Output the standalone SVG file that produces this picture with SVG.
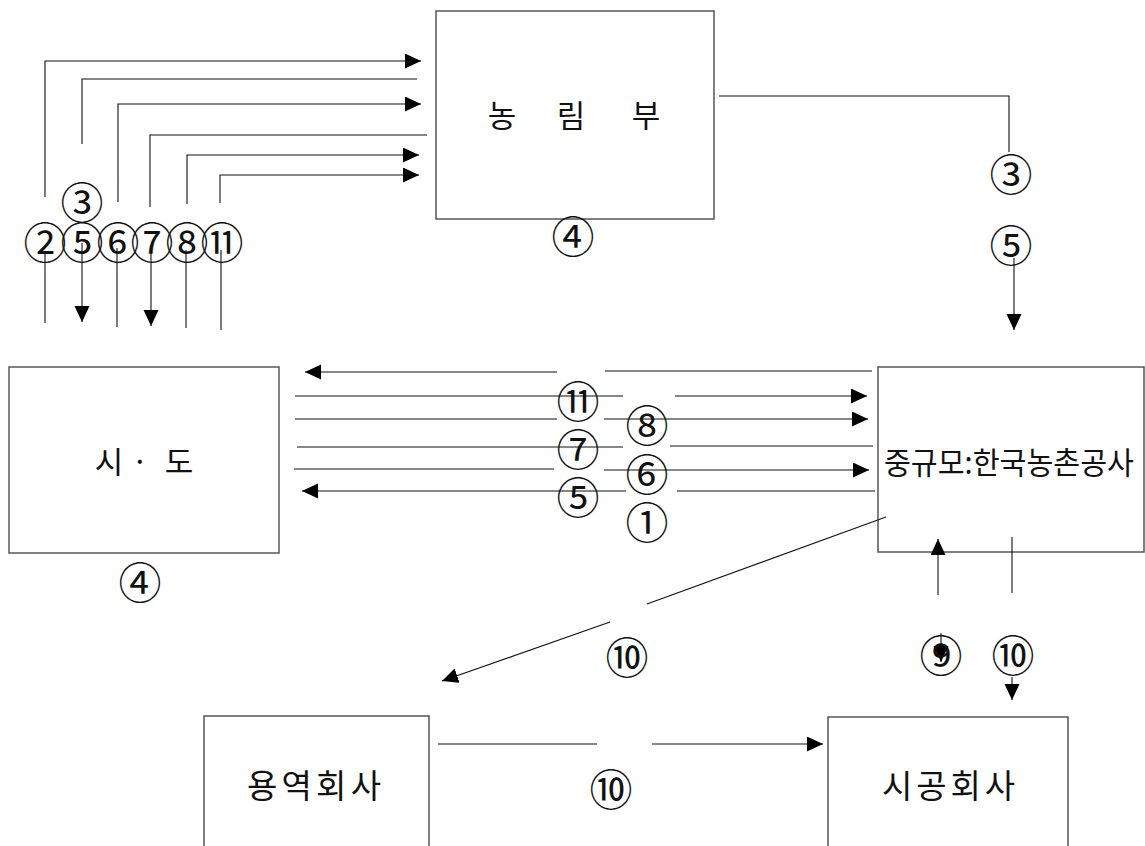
<svg xmlns="http://www.w3.org/2000/svg" width="1145" height="846" viewBox="0 0 1145 846">
<style>
.box{fill:#fff;stroke:#555;stroke-width:1.5}
.ln{fill:none;stroke:#111;stroke-width:1.1}
.kt{font-family:"Noto Sans CJK KR","Liberation Serif",serif;font-size:31px;fill:#111}
.kb{font-size:33px}
.num{font-family:"Noto Sans CJK KR","Liberation Serif",serif;font-size:43px;fill:#111;text-anchor:middle;dominant-baseline:central}
</style>
<defs>
<marker id="ah" markerUnits="userSpaceOnUse" markerWidth="17" markerHeight="16" refX="16" refY="7.5" orient="auto">
<path d="M0,0 L16,7.5 L0,15 z" fill="#000"/>
</marker>
</defs>
<g id="node-nongrimbu">
<rect class="box" x="436" y="11" width="278" height="208"/>
<text class="kt" x="502 537 571 609 646" y="127" text-anchor="middle">농 림 부</text>
</g>
<g id="node-sido">
<rect class="box" x="9" y="367" width="270" height="186"/>
<text class="kt" x="109 125 140 155 179" y="473" text-anchor="middle">시 · 도</text>
</g>
<g id="node-jungyumo">
<rect class="box" x="878" y="367" width="266" height="185"/>
<text class="kt" x="884" y="474" textLength="250" lengthAdjust="spacingAndGlyphs">중규모:한국농촌공사</text>
</g>
<g id="node-yongyeok">
<rect class="box" x="204" y="716" width="225" height="200"/>
<text class="kt kb" x="247" y="798" textLength="134" lengthAdjust="spacing">용역회사</text>
</g>
<g id="node-sigong">
<rect class="box" x="828" y="717" width="240" height="200"/>
<text class="kt kb" x="882" y="798" textLength="133" lengthAdjust="spacing">시공회사</text>
</g>
<g id="connectors">
<polyline class="ln" points="45,197 45,61 421,61" marker-end="url(#ah)"/>
<line class="ln" x1="45" y1="253" x2="45" y2="323"/>
<polyline class="ln" points="82,144 82,79 417,79"/>
<line class="ln" x1="82" y1="243" x2="82" y2="322" marker-end="url(#ah)"/>
<polyline class="ln" points="118,202 118,104 421,104" marker-end="url(#ah)"/>
<line class="ln" x1="117" y1="248" x2="117" y2="327"/>
<polyline class="ln" points="150,207 150,135 427,135"/>
<line class="ln" x1="151" y1="250" x2="151" y2="326" marker-end="url(#ah)"/>
<polyline class="ln" points="187,204 187,155 419,155" marker-end="url(#ah)"/>
<line class="ln" x1="186" y1="250" x2="186" y2="328"/>
<polyline class="ln" points="220,203 220,175 419,175" marker-end="url(#ah)"/>
<line class="ln" x1="221" y1="250" x2="221" y2="330"/>
<polyline class="ln" points="719,96 1009,96 1009,152"/>
<line class="ln" x1="1014" y1="258" x2="1014" y2="330" marker-end="url(#ah)"/>
<line class="ln" x1="557" y1="372" x2="305" y2="372" marker-end="url(#ah)"/>
<line class="ln" x1="605" y1="371" x2="872" y2="371"/>
<line class="ln" x1="295" y1="396" x2="623" y2="396"/>
<line class="ln" x1="675" y1="396" x2="867" y2="396" marker-end="url(#ah)"/>
<line class="ln" x1="295" y1="419" x2="557" y2="419"/>
<line class="ln" x1="604" y1="419" x2="868" y2="419" marker-end="url(#ah)"/>
<line class="ln" x1="297" y1="447" x2="623" y2="447"/>
<line class="ln" x1="670" y1="446" x2="873" y2="446"/>
<line class="ln" x1="294" y1="469" x2="554" y2="469"/>
<line class="ln" x1="604" y1="470" x2="869" y2="470" marker-end="url(#ah)"/>
<line class="ln" x1="626" y1="491" x2="302" y2="491" marker-end="url(#ah)"/>
<line class="ln" x1="677" y1="491" x2="875" y2="491"/>
<line class="ln" x1="886" y1="517" x2="647" y2="604"/>
<line class="ln" x1="610" y1="622" x2="442" y2="681" marker-end="url(#ah)"/>
<line class="ln" x1="938" y1="595" x2="938" y2="539" marker-end="url(#ah)"/>
<line class="ln" x1="941" y1="633" x2="941" y2="662" marker-end="url(#ah)"/>
<line class="ln" x1="1012" y1="537" x2="1012" y2="593"/>
<line class="ln" x1="1012" y1="677" x2="1012" y2="700" marker-end="url(#ah)"/>
<line class="ln" x1="438" y1="744" x2="597" y2="744"/>
<line class="ln" x1="652" y1="744" x2="823" y2="744" marker-end="url(#ah)"/>
</g>
<g id="labels">
<text class="num" x="82" y="200">③</text>
<text class="num" x="45" y="240">②</text>
<text class="num" x="82" y="240">⑤</text>
<text class="num" x="118" y="240">⑥</text>
<text class="num" x="152" y="240">⑦</text>
<text class="num" x="187" y="240">⑧</text>
<text class="num" x="222" y="240">⑪</text>
<text class="num" x="573" y="234">④</text>
<text class="num" x="1011" y="172">③</text>
<text class="num" x="1011" y="243">⑤</text>
<text class="num" x="578" y="399">⑪</text>
<text class="num" x="647" y="423">⑧</text>
<text class="num" x="578" y="447">⑦</text>
<text class="num" x="647" y="472">⑥</text>
<text class="num" x="578" y="495">⑤</text>
<text class="num" x="647" y="520">①</text>
<text class="num" x="140" y="580">④</text>
<text class="num" x="627" y="655">⑩</text>
<text class="num" x="941" y="653">⑨</text>
<text class="num" x="1013" y="653">⑩</text>
<text class="num" x="611" y="787">⑩</text>
</g>
</svg>
